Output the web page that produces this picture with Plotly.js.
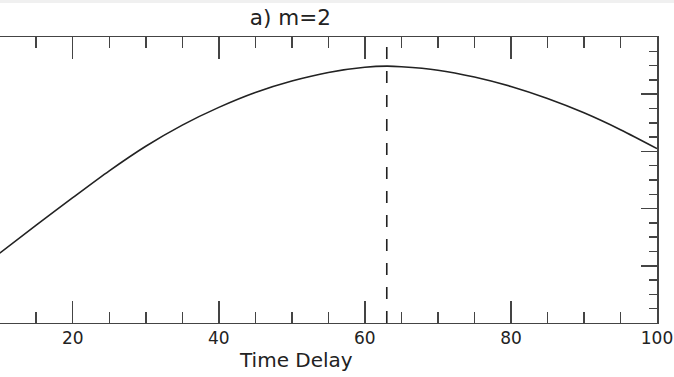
<!DOCTYPE html>
<html>
<head>
<meta charset="utf-8">
<script src="https://cdn.plot.ly/plotly-3.0.1.min.js"></script>
<style>
html,body{margin:0;padding:0;background:#f0f0f0;}
#chart{width:674px;height:374px;margin-top:3px;background:#fff;}
</style>
</head>
<body>
<div id="chart"></div>
<script>
// Time delay values and the curve
const timeDelay = [10, 15, 20, 25, 30, 35, 40, 45, 50, 55, 60, 63, 65, 70, 75, 80, 85, 90, 95, 100];
const curveValues = [1.22, 1.71, 2.19, 2.66, 3.09, 3.46, 3.77, 4.03, 4.23, 4.38, 4.47, 4.49, 4.48, 4.42, 4.30, 4.135, 3.925, 3.675, 3.38, 3.05];
const peakDelay = 63;
const yLimits = [0, 5];
const xLimits = [10.04, 100];
const titleText = 'a) m=2';
const xLabel = 'Time Delay';

const axisColor = '#444';
const font = 'DejaVu Sans, sans-serif';

const traces = [
  {
    x: timeDelay, y: curveValues, mode: 'lines', type: 'scatter',
    line: {color: '#222', width: 1.6, shape: 'spline', smoothing: 0.8}
  },
  {
    x: [peakDelay, peakDelay], y: yLimits, mode: 'lines', type: 'scatter',
    line: {color: '#222', width: 1.6, dash: '12px,12px'}
  }
];

const layout = {
  width: 674, height: 374,
  margin: {l: 0, r: 17, t: 34, b: 54, pad: 0},
  font: {family: font, size: 17, color: '#222'},
  showlegend: false,
  title: {text: titleText, font: {family: font, size: 21.5, color: '#222'},
          xref: 'paper', x: 0.442, xanchor: 'center', yref: 'container', y: 0.96, yanchor: 'middle'},
  xaxis: {
    range: xLimits, tick0: 0, dtick: 20, ticks: 'inside', ticklen: 22, tickwidth: 1.5, tickcolor: axisColor,
    minor: {dtick: 5, ticks: 'inside', ticklen: 11, tickwidth: 1.5, tickcolor: axisColor},
    showline: true, mirror: 'ticks', showgrid: false, zeroline: false
  },
  yaxis: {
    range: yLimits, side: 'right', tick0: 0, dtick: 1, ticks: 'inside', ticklen: 16, tickwidth: 1.5, tickcolor: axisColor,
    minor: {dtick: 0.25, ticks: 'inside', ticklen: 8, tickwidth: 1.5, tickcolor: axisColor},
    showline: true, linecolor: axisColor, linewidth: 1.5, mirror: false,
    showgrid: false, zeroline: false, showticklabels: false
  },
  annotations: [
    {text: xLabel, xref: 'x', x: 50.6, yref: 'paper', y: 0, yanchor: 'middle', yshift: -37,
     showarrow: false, font: {family: font, size: 20, color: '#222'}}
  ]
};

Plotly.newPlot('chart', traces, layout, {displayModeBar: false, staticPlot: true});
</script>
</body>
</html>
